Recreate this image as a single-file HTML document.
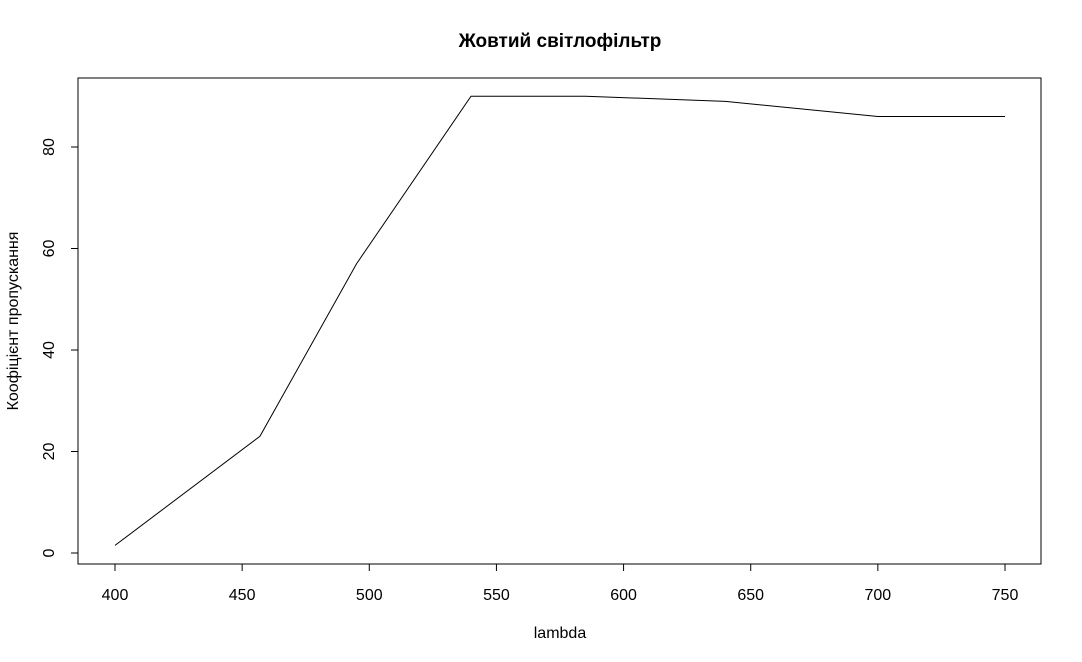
<!DOCTYPE html>
<html><head><meta charset="utf-8">
<style>
html,body{margin:0;padding:0;background:#fff;}
svg{display:block;font-family:"Liberation Sans",sans-serif;}
</style></head>
<body>
<svg id="chart" width="1082" height="662" viewBox="0 0 1082 662">
<text x="560" y="47" text-anchor="middle" font-size="19" font-weight="bold">Жовтий світлофільтр</text>
<rect x="78" y="78" width="963" height="486" fill="none" stroke="#000" stroke-width="1"/>
<text x="560" y="638" text-anchor="middle" font-size="16">lambda</text>
<text transform="translate(18,321) rotate(-90)" text-anchor="middle" font-size="16">Коофіцієнт пропускання</text>
<g id="xaxis"></g>
<g id="yaxis"></g>
<g id="series"></g>
</svg>
<script>
const lambdas = [400, 457, 495, 540, 585, 640, 700, 750];
const transmission = [1.5, 23, 57, 90, 90, 89, 86, 86];
const xTicks = [400, 450, 500, 550, 600, 650, 700, 750];
const yTicks = [0, 20, 40, 60, 80];

const NS = "http://www.w3.org/2000/svg";
function sx(v){ return 115 + (v - 400) * (1005 - 115) / 350; }
function sy(v){ return 553 - v * (553 - 147) / 80; }
function mk(tag, attrs, parent){
  const e = document.createElementNS(NS, tag);
  for (const k in attrs) e.setAttribute(k, attrs[k]);
  parent.appendChild(e);
  return e;
}
const xa = document.getElementById('xaxis');
const ya = document.getElementById('yaxis');
const sr = document.getElementById('series');

const xl = mk('line', {x1: sx(xTicks[0]), x2: sx(xTicks[xTicks.length-1]), y1: 564, y2: 564, stroke: '#000'}, xa);


xTicks.forEach(t => {
  const tk = mk('line', {x1: sx(t), x2: sx(t), y1: 564, y2: 571, stroke: '#000'}, xa);
  
  
  const lb = mk('text', {x: sx(t), y: 600, 'text-anchor': 'middle', 'font-size': 16}, xa);
  lb.textContent = t;
  
  
});

const yl = mk('line', {x1: 78, x2: 78, y1: sy(yTicks[0]), y2: sy(yTicks[yTicks.length-1]), stroke: '#000'}, ya);


yTicks.forEach(t => {
  const tk = mk('line', {x1: 71, x2: 78, y1: sy(t), y2: sy(t), stroke: '#000'}, ya);
  
  
  const lb = mk('text', {x: 0, y: 0, 'text-anchor': 'middle', 'font-size': 16, transform: 'translate(54,' + sy(t) + ') rotate(-90)'}, ya);
  lb.textContent = t;
  
  
});

const pts = lambdas.map((l, i) => sx(l) + ',' + sy(transmission[i])).join(' ');
const pl = mk('polyline', {points: pts, fill: 'none', stroke: '#000', 'stroke-width': 1}, sr);


</script>
</body></html>
